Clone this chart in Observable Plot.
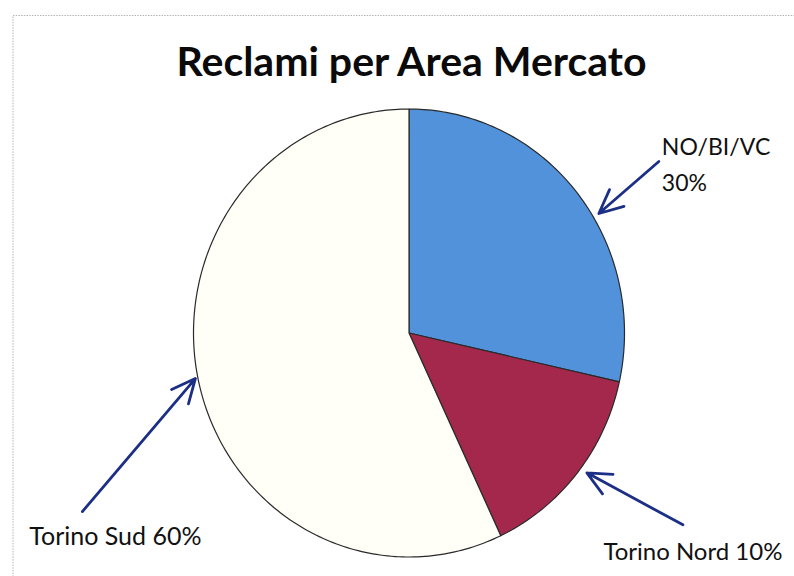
<!DOCTYPE html>
<html>
<head>
<meta charset="utf-8">
<script src="https://cdn.jsdelivr.net/npm/d3@7"></script>
<script src="https://cdn.jsdelivr.net/npm/@observablehq/plot@0.6"></script>
<style>
  html, body { margin: 0; padding: 0; background: #ffffff; }
  #chart svg { display: block; }
</style>
</head>
<body>
<div id="chart"></div>
<script>
// ---- Data ----
const names = ["NO/BI/VC", "Torino Nord", "Torino Sud"];
const shares = [28.5, 14.5, 57];          // slice sizes as drawn
const labelPct = ["30%", "10%", "60%"];   // percentages printed on the labels
const colors = ["#5192da", "#a3284c", "#fffef7"];
const title = "Reclami per Area Mercato";

// ---- Layout ----
const W = 794, H = 576;
const cx = 408.5, cy = 332.5, rx = 215.5, ry = 224;
// per-label annotation layout: angle nudge (deg), tip radius, tail offset (px), text offset (px), text anchor
const annot = [
  {dA: 7.5,  r: 1.03, tail: [60, -52],  text: [3, 0],   anchor: "start", sep: "\n", fs: 23},
  {dA: -1.6, r: 1.035, tail: [96, 52],  text: [10, 23], anchor: "middle", sep: " ", fs: 24},
  {dA: 1.0,  r: 1.012, tail: [-113, 133], text: [33, 21], anchor: "middle", sep: " ", fs: 25}
];

// ---- Build slice geometry from the data ----
const total = d3.sum(shares);
let acc = 0;
const slices = names.map((name, i) => {
  const a0 = acc / total * 360;
  acc += shares[i];
  const a1 = acc / total * 360;
  return {name, a0, a1, mid: (a0 + a1) / 2, color: colors[i], i};
});
const rad = d => d * Math.PI / 180;
const slicePts = slices.map(s => {
  const pts = [{x: 0, y: 0}];
  const n = Math.max(2, Math.ceil(s.a1 - s.a0));
  for (let k = 0; k <= n; k++) {
    const a = rad(s.a0 + (s.a1 - s.a0) * k / n);
    pts.push({x: Math.sin(a), y: Math.cos(a)});
  }
  return pts;
});

const arrows = slices.map(s => {
  const L = annot[s.i];
  const a = rad(s.mid + L.dA);
  const x2 = L.r * Math.sin(a), y2 = L.r * Math.cos(a);
  const x1 = x2 + L.tail[0] / rx, y1 = y2 - L.tail[1] / ry;
  return {x1, y1, x2, y2,
          tx: x1 + L.text[0] / rx, ty: y1 - L.text[1] / ry,
          anchor: L.anchor, fs: L.fs,
          label: s.name + L.sep + labelPct[s.i]};
});

const chart = Plot.plot({
  width: W,
  height: H,
  margin: 0,
  x: {domain: [-1, 1], range: [cx - rx, cx + rx], axis: null},
  y: {domain: [-1, 1], range: [cy + ry, cy - ry], axis: null},
  style: {background: "#ffffff", fontFamily: "Lato, 'Liberation Sans', sans-serif"},
  marks: [
    Plot.frame({stroke: "#b5b5b5", strokeDasharray: "1.5,1.2", insetLeft: 12.5, insetTop: 15, insetRight: -3, insetBottom: -3}),
    ...slicePts.map((pts, i) => Plot.line(pts, {
      x: "x", y: "y", curve: "linear-closed",
      fill: slices[i].color, stroke: "#2a2a2a", strokeWidth: 1.2
    })),
    Plot.arrow(arrows, {
      x1: "x1", y1: "y1", x2: "x2", y2: "y2",
      stroke: "#1c2f86", strokeWidth: 2.8, headLength: 14, headAngle: 50, bend: 0
    }),
    ...arrows.map(a => Plot.text([a], {
      x: "tx", y: "ty", text: "label", textAnchor: a.anchor, lineAnchor: "middle",
      fontSize: a.fs, lineHeight: 1.55, fill: "#111"
    })),
    Plot.text([title], {
      frameAnchor: "top", dx: 14, dy: 62, lineAnchor: "middle",
      fontSize: 41, fontWeight: "bold", fill: "#0a0a0a"
    })
  ]
});
document.getElementById("chart").appendChild(chart);
</script>
</body>
</html>
